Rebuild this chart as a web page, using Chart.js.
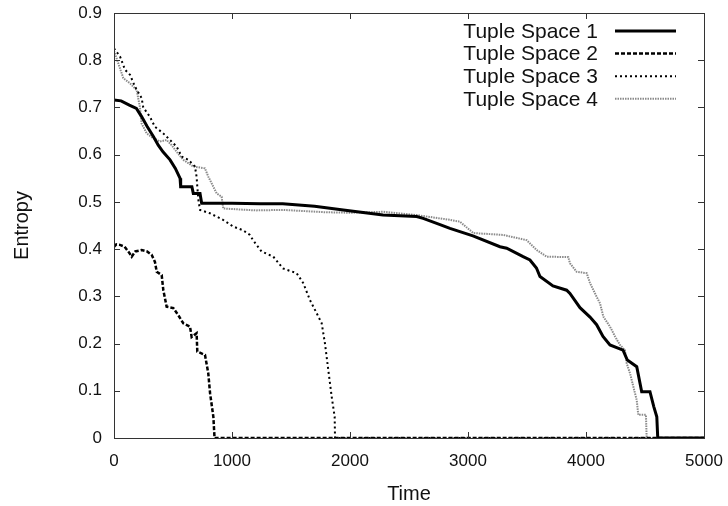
<!DOCTYPE html>
<html lang="en">
<head>
  <meta charset="UTF-8">
  <title>Entropy over time</title>
  <script src="https://cdn.jsdelivr.net/npm/chart.js"></script>
  <style>
    body {
      margin: 0;
      padding: 0;
      background: #fff;
    }
    #wrap {
      width: 728px;
      height: 506px;
    }
  </style>
</head>
<body>

  <div id="wrap"><canvas id="entropyChart" width="728" height="506"></canvas></div>

  <script>
    const seriesNames = ['Tuple Space 1', 'Tuple Space 2', 'Tuple Space 3', 'Tuple Space 4'];

    const ts1Time = [0, 60, 130, 190, 235, 280, 335, 375, 415, 475, 520, 560, 565, 660, 672, 729, 743, 1000, 1240, 1430,
      1700, 1943, 2280, 2565, 2620, 2763, 2847, 3042, 3271, 3328, 3467, 3525, 3580, 3610, 3720, 3836, 3864, 3949, 4034,
      4090, 4144, 4203, 4314, 4350, 4430, 4472, 4542, 4575, 4600, 4608, 5000];
    const ts1Entropy = [0.716, 0.714, 0.705, 0.698, 0.68, 0.66, 0.638, 0.62, 0.606, 0.589, 0.571, 0.55, 0.532, 0.532, 0.518,
      0.518, 0.497, 0.497, 0.496, 0.496, 0.491, 0.483, 0.472, 0.469, 0.465, 0.452, 0.444, 0.428, 0.405, 0.402, 0.384, 0.377,
      0.36, 0.342, 0.322, 0.313, 0.306, 0.276, 0.256, 0.24, 0.215, 0.197, 0.186, 0.165, 0.151, 0.098, 0.098, 0.066, 0.045,
      0, 0];

    const ts2Time = [0, 20, 50, 90, 130, 150, 180, 234, 280, 319, 347, 362, 404, 418, 446, 503, 545, 587, 644, 658, 700, 706,
      771, 799, 814, 842, 852, 5000];
    const ts2Entropy = [0.405, 0.41, 0.409, 0.405, 0.392, 0.384, 0.395, 0.398, 0.395, 0.388, 0.373, 0.352, 0.345, 0.313,
      0.278, 0.275, 0.26, 0.243, 0.236, 0.214, 0.222, 0.183, 0.176, 0.137, 0.095, 0.045, 0, 0];

    const ts3Time = [0, 51, 93, 136, 178, 234, 248, 305, 347, 418, 475, 531, 574, 630, 686, 700, 706, 715, 729, 812, 924, 1008,
      1093, 1152, 1178, 1250, 1350, 1432, 1548, 1604, 1661, 1718, 1760, 1788, 1816, 1845, 1870, 1873, 5000];
    const ts3Entropy = [0.825, 0.808, 0.78, 0.769, 0.744, 0.72, 0.7, 0.68, 0.659, 0.645, 0.631, 0.617, 0.596, 0.589, 0.575,
      0.553, 0.532, 0.504, 0.483, 0.476, 0.462, 0.448, 0.44, 0.43, 0.419, 0.395, 0.384, 0.359, 0.349, 0.328, 0.292, 0.264,
      0.243, 0.2, 0.144, 0.087, 0.045, 0, 0];

    const ts4Time = [0, 79, 136, 192, 220, 234, 277, 333, 390, 446, 489, 531, 587, 672, 771, 800, 842, 870, 912, 926, 1200,
      1432, 1800, 2000, 2282, 2565, 2763, 2847, 2932, 3045, 3299, 3497, 3582, 3667, 3850, 3864, 3921, 4006, 4034, 4090, 4119,
      4147, 4203, 4246, 4288, 4330, 4345, 4373, 4401, 4430, 4443, 4508, 4514, 5000];
    const ts4Entropy = [0.82, 0.762, 0.751, 0.737, 0.7, 0.666, 0.645, 0.635, 0.628, 0.631, 0.62, 0.606, 0.589, 0.575, 0.571,
      0.553, 0.532, 0.518, 0.511, 0.486, 0.482, 0.483, 0.478, 0.477, 0.479, 0.472, 0.465, 0.462, 0.458, 0.434, 0.43, 0.419,
      0.398, 0.384, 0.383, 0.37, 0.352, 0.349, 0.328, 0.299, 0.285, 0.257, 0.236, 0.215, 0.197, 0.186, 0.158, 0.137, 0.109,
      0.08, 0.049, 0.049, 0, 0];

    const xTicks = [0, 1000, 2000, 3000, 4000, 5000];
    const yTicks = [0, 0.1, 0.2, 0.3, 0.4, 0.5, 0.6, 0.7, 0.8, 0.9];

    const FONT = "'Liberation Sans', Arial, sans-serif";

    function toPoints(xs, ys) {
      return xs.map((x, i) => ({ x: x, y: ys[i] }));
    }

    // gnuplot style frame: box all round, ticks pointing inwards on every side
    const framePlugin = {
      id: 'frame',
      afterDraw(chart) {
        const { ctx, chartArea: a, scales } = chart;
        const len = 6;
        ctx.save();
        ctx.strokeStyle = '#333';
        ctx.lineWidth = 1;
        ctx.strokeRect(Math.round(a.left) + 0.5, Math.round(a.top) + 0.5,
          Math.round(a.right - a.left), Math.round(a.bottom - a.top));
        ctx.beginPath();
        xTicks.forEach(v => {
          const px = Math.round(scales.x.getPixelForValue(v)) + 0.5;
          ctx.moveTo(px, a.bottom); ctx.lineTo(px, a.bottom - len);
          ctx.moveTo(px, a.top); ctx.lineTo(px, a.top + len);
        });
        yTicks.forEach(v => {
          const py = Math.round(scales.y.getPixelForValue(v)) + 0.5;
          ctx.moveTo(a.left, py); ctx.lineTo(a.left + len, py);
          ctx.moveTo(a.right, py); ctx.lineTo(a.right - len, py);
        });
        ctx.stroke();
        ctx.restore();
      }
    };

    // key in the top right corner: text first, then a sample of the line
    const keyPlugin = {
      id: 'key',
      afterDraw(chart) {
        const { ctx, chartArea: a } = chart;
        const textRight = a.right - 106;
        const lineStart = a.right - 89;
        const lineEnd = a.right - 28;
        ctx.save();
        ctx.font = '21px ' + FONT;
        ctx.textAlign = 'right';
        ctx.textBaseline = 'middle';
        chart.data.datasets.forEach((ds, i) => {
          const y = a.top + 18 + i * 22.6;
          ctx.fillStyle = '#111';
          ctx.fillText(ds.label, textRight, y + 1);
          ctx.strokeStyle = ds.borderColor;
          ctx.lineWidth = ds.borderWidth;
          ctx.setLineDash(ds.borderDash || []);
          ctx.beginPath();
          ctx.moveTo(lineStart, y);
          ctx.lineTo(lineEnd, y);
          ctx.stroke();
        });
        ctx.restore();
      }
    };

    const common = { fill: false, pointRadius: 0, tension: 0, borderCapStyle: 'butt' };

    new Chart(document.getElementById('entropyChart'), {
      type: 'line',
      data: {
        datasets: [
          { ...common, label: seriesNames[0], data: toPoints(ts1Time, ts1Entropy), borderColor: '#000', borderWidth: 3 },
          { ...common, label: seriesNames[1], data: toPoints(ts2Time, ts2Entropy), borderColor: '#000', borderWidth: 2.5, borderDash: [4, 2] },
          { ...common, label: seriesNames[2], data: toPoints(ts3Time, ts3Entropy), borderColor: '#000', borderWidth: 2, borderDash: [2, 3] },
          { ...common, label: seriesNames[3], data: toPoints(ts4Time, ts4Entropy), borderColor: '#8a8a8a', borderWidth: 2, borderDash: [1.5, 1] }
        ]
      },
      options: {
        responsive: false,
        animation: false,
        layout: { padding: { top: 13, right: 24, bottom: 0, left: 0 } },
        plugins: {
          legend: { display: false },
          tooltip: { enabled: false }
        },
        scales: {
          x: {
            type: 'linear',
            min: 0,
            max: 5000,
            grid: { display: false, drawTicks: false },
            border: { display: false },
            afterBuildTicks: scale => { scale.ticks = xTicks.map(v => ({ value: v })); },
            afterFit: scale => {
              scale.height = 68;
              scale.paddingLeft = 0;
              scale.paddingRight = 0;
            },
            ticks: {
              padding: 13,
              color: '#111',
              font: { family: FONT, size: 17 },
              maxRotation: 0,
              callback: v => String(v)
            },
            title: {
              display: true,
              text: 'Time',
              color: '#111',
              font: { family: FONT, size: 20 },
              padding: { top: 0, bottom: 0 }
            }
          },
          y: {
            type: 'linear',
            min: 0,
            max: 0.9,
            grid: { display: false, drawTicks: false },
            border: { display: false },
            afterBuildTicks: scale => { scale.ticks = yTicks.map(v => ({ value: v })); },
            afterFit: scale => {
              scale.width = 114;
              scale.paddingTop = 0;
              scale.paddingBottom = 0;
            },
            ticks: {
              padding: 12,
              color: '#111',
              font: { family: FONT, size: 17 },
              callback: v => String(+v.toFixed(1))
            },
            title: {
              display: true,
              text: 'Entropy',
              color: '#111',
              font: { family: FONT, size: 20 },
              padding: { top: 10, bottom: 0 }
            }
          }
        }
      },
      plugins: [framePlugin, keyPlugin]
    });
  </script>

</body>
</html>
